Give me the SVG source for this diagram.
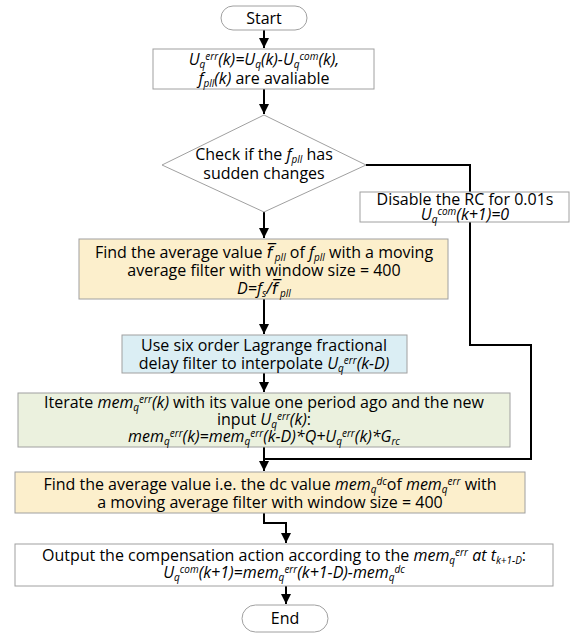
<svg xmlns="http://www.w3.org/2000/svg" width="587" height="635" viewBox="0 0 587 635">
<defs>
<marker id="arr" viewBox="0 0 10 10" refX="10" refY="5" markerWidth="10" markerHeight="10" markerUnits="userSpaceOnUse" orient="auto">
<path d="M0,0 L10,5 L0,10 Z" fill="#000"/>
</marker>
<style>
text{font-family:"Open Sans","DejaVu Sans",sans-serif;font-size:16px;fill:#000;text-anchor:middle}
.i{font-style:italic}
.sp{font-size:10px;baseline-shift:5px;font-style:italic}
.sb{font-size:10px;baseline-shift:-3px;font-style:italic}
.box{stroke:#a0a0a0;stroke-width:1}
.w{fill:#fff}
.o{fill:#fcefcc}
.b{fill:#dbeef4}
.g{fill:#ebf1de}
.c{fill:none;stroke:#000;stroke-width:2}
</style>
</defs>
<rect width="587" height="635" fill="#fff"/>

<g id="connectors">
<line class="c" x1="264" y1="30" x2="264" y2="48" marker-end="url(#arr)"/>
<line class="c" x1="264" y1="89" x2="264" y2="114" marker-end="url(#arr)"/>
<line class="c" x1="264" y1="212" x2="264" y2="238" marker-end="url(#arr)"/>
<line class="c" x1="264" y1="299" x2="264" y2="334" marker-end="url(#arr)"/>
<line class="c" x1="264" y1="373" x2="264" y2="392" marker-end="url(#arr)"/>
<line class="c" x1="264" y1="447" x2="264" y2="471" marker-end="url(#arr)"/>
<polyline class="c" points="366,165 470,165 470,192"/>
<polyline class="c" points="470,222 470,345 531,345 531,459 264,459"/>
<polyline class="c" points="264,513 264,523 286,523 286,543" marker-end="url(#arr)"/>
<line class="c" x1="286" y1="586" x2="286" y2="604" marker-end="url(#arr)"/>
</g>

<g id="start">
<rect class="box w" x="221" y="6" width="86" height="24" rx="12" ry="12"/>
<text x="264" y="24">Start</text>
</g>

<g id="init">
<rect class="box w" x="153" y="49" width="221" height="40"/>
<text x="264" y="65" class="i">U<tspan class="sb">q</tspan><tspan class="sp">err</tspan>(k)=U<tspan class="sb">q</tspan>(k)-U<tspan class="sb">q</tspan><tspan class="sp">com</tspan>(k),</text>
<text x="264" y="84"><tspan class="i">f</tspan><tspan class="sb">pll</tspan><tspan class="i">(k)</tspan> are avaliable</text>
</g>

<g id="check">
<polygon class="box w" points="264,115 366,165 264,212 162,165"/>
<text x="264" y="160">Check if the <tspan class="i">f</tspan><tspan class="sb">pll</tspan> has</text>
<text x="264" y="179">sudden changes</text>
</g>

<g id="disable">
<rect class="box w" x="360" y="192" width="209" height="30"/>
<text x="465" y="205">Disable the RC for 0.01s</text>
<text x="465" y="220" class="i">U<tspan class="sb">q</tspan><tspan class="sp">com</tspan>(k+1)=0</text>
</g>

<g id="avg">
<rect class="box o" x="79" y="239" width="369" height="60"/>
<text x="264" y="258">Find the average value <tspan class="i">f̅</tspan><tspan class="sb"> pll</tspan> of <tspan class="i">f</tspan><tspan class="sb">pll</tspan> with a moving</text>
<text x="264" y="276">average filter with window size = 400</text>
<text x="264" y="294" class="i">D=f<tspan class="sb">s</tspan>/f̅<tspan class="sb"> pll</tspan></text>
</g>

<g id="lagrange">
<rect class="box b" x="122" y="335" width="285" height="38"/>
<text x="264" y="351">Use six order Lagrange fractional</text>
<text x="264" y="369">delay filter to interpolate <tspan class="i">U</tspan><tspan class="sb">q</tspan><tspan class="sp">err</tspan><tspan class="i">(k-D)</tspan></text>
</g>

<g id="iterate">
<rect class="box g" x="18" y="393" width="492" height="54"/>
<text x="264" y="408">Iterate <tspan class="i">mem</tspan><tspan class="sb">q</tspan><tspan class="sp">err</tspan><tspan class="i">(k)</tspan> with its value one period ago and the new</text>
<text x="264" y="425">input <tspan class="i">U</tspan><tspan class="sb">q</tspan><tspan class="sp">err</tspan><tspan class="i">(k)</tspan>:</text>
<text x="264" y="442" class="i">mem<tspan class="sb">q</tspan><tspan class="sp">err</tspan>(k)=mem<tspan class="sb">q</tspan><tspan class="sp">err</tspan>(k-D)*Q+U<tspan class="sb">q</tspan><tspan class="sp">err</tspan>(k)*G<tspan class="sb">rc</tspan></text>
</g>

<g id="dc">
<rect class="box o" x="15" y="472" width="510" height="41"/>
<text x="270" y="490">Find the average value i.e. the dc value <tspan class="i">mem</tspan><tspan class="sb">q</tspan><tspan class="sp">dc</tspan>of <tspan class="i">mem</tspan><tspan class="sb">q</tspan><tspan class="sp">err</tspan> with</text>
<text x="270" y="508">a moving average filter with window size = 400</text>
</g>

<g id="output">
<rect class="box w" x="15" y="544" width="538" height="42"/>
<text x="284" y="561">Output the compensation action according to the <tspan class="i">mem</tspan><tspan class="sb">q</tspan><tspan class="sp">err</tspan> <tspan class="i">at t</tspan><tspan class="sb">k+1-D</tspan>:</text>
<text x="284" y="578" class="i">U<tspan class="sb">q</tspan><tspan class="sp">com</tspan>(k+1)=mem<tspan class="sb">q</tspan><tspan class="sp">err</tspan>(k+1-D)-mem<tspan class="sb">q</tspan><tspan class="sp">dc</tspan></text>
</g>

<g id="end">
<rect class="box w" x="242" y="605" width="86" height="27" rx="13.5" ry="13.5"/>
<text x="285" y="624">End</text>
</g>
</svg>
